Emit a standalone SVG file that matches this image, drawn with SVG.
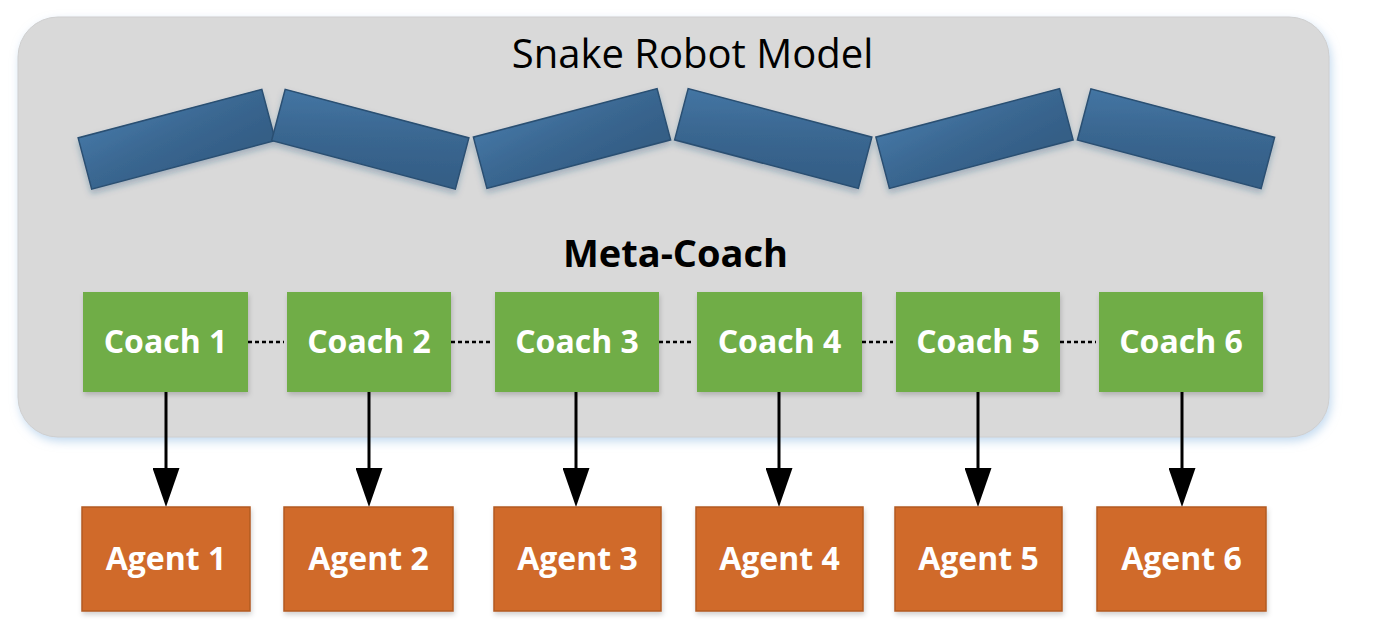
<svg xmlns="http://www.w3.org/2000/svg" width="1373" height="633" viewBox="0 0 1373 633">
<style>
.title{font-family:"Open Sans","Liberation Sans",sans-serif;font-size:40px;fill:#000;text-anchor:middle}
.meta{font-family:"Open Sans","Liberation Sans",sans-serif;font-size:38px;font-weight:bold;fill:#000;text-anchor:middle}
.lbl{font-family:"Open Sans","Liberation Sans",sans-serif;font-size:32px;font-weight:bold;fill:#fff;text-anchor:middle}
.coach{fill:#70ad47}
.agent{fill:#d06b2b;stroke:#b25a22;stroke-width:1.5}
.seg{fill:url(#segGrad);stroke:#2a4f72;stroke-width:1.5}
.dot{stroke:#000;stroke-width:2.5;stroke-dasharray:4 3;fill:none}
.arr{stroke:#000;stroke-width:3;fill:none}
</style>
<defs>
<linearGradient id="segGrad" x1="0" y1="0" x2="0.8" y2="1">
<stop offset="0" stop-color="#4475a3"/>
<stop offset="0.5" stop-color="#3a6791"/>
<stop offset="1" stop-color="#345e86"/>
</linearGradient>
<filter id="panelShadow" x="-5%" y="-5%" width="110%" height="115%">
<feDropShadow dx="2" dy="4" stdDeviation="5" flood-color="#9dc3e6" flood-opacity="0.6"/>
</filter>
<filter id="boxShadow" x="-10%" y="-10%" width="125%" height="130%">
<feDropShadow dx="1" dy="3" stdDeviation="2.5" flood-color="#000" flood-opacity="0.18"/>
</filter>
<filter id="segShadow" x="-10%" y="-20%" width="120%" height="150%">
<feDropShadow dx="0" dy="4" stdDeviation="3" flood-color="#1f4e79" flood-opacity="0.3"/>
</filter>
<marker id="ah" viewBox="0 0 39 27" refX="22" refY="13.5" markerWidth="39" markerHeight="27" markerUnits="userSpaceOnUse" orient="auto">
<path d="M0,0 L39,13.5 L0,27 z" fill="#000"/>
</marker>
</defs>
<rect width="1373" height="633" fill="#fff"/>
<g id="panel">
<rect x="18" y="17" width="1311" height="420" rx="40" ry="40" fill="#d9d9d9" stroke="#cfcfcf" stroke-width="1" filter="url(#panelShadow)"/>
<text class="title" x="692.5" y="68">Snake Robot Model</text>
</g>
<g id="snake" filter="url(#segShadow)">
<rect class="seg" x="-95" y="-26.5" width="190" height="53" transform="translate(176.75,139.2) rotate(-14.8)"/>
<rect class="seg" x="-95" y="-26.5" width="190" height="53" transform="translate(370.25,139.2) rotate(14.8)"/>
<rect class="seg" x="-95" y="-26.5" width="190" height="53" transform="translate(572,138.5) rotate(-14.8)"/>
<rect class="seg" x="-95" y="-26.5" width="190" height="53" transform="translate(773.25,138.5) rotate(14.8)"/>
<rect class="seg" x="-95" y="-26.5" width="190" height="53" transform="translate(974.5,138.5) rotate(-14.8)"/>
<rect class="seg" x="-95" y="-26.5" width="190" height="53" transform="translate(1176,138.7) rotate(14.8)"/>
</g>
<g id="meta-coach">
<text class="meta" x="675.5" y="267">Meta-Coach</text>
</g>
<g id="connectors">
<line class="dot" x1="248" y1="342" x2="284" y2="342"/>
<line class="dot" x1="451" y1="342" x2="491" y2="342"/>
<line class="dot" x1="659" y1="342" x2="694" y2="342"/>
<line class="dot" x1="862" y1="342" x2="893" y2="342"/>
<line class="dot" x1="1060" y1="342" x2="1096" y2="342"/>
<line class="arr" x1="166" y1="392" x2="166" y2="490" marker-end="url(#ah)"/>
<line class="arr" x1="369" y1="392" x2="369" y2="490" marker-end="url(#ah)"/>
<line class="arr" x1="576" y1="392" x2="576" y2="490" marker-end="url(#ah)"/>
<line class="arr" x1="779" y1="392" x2="779" y2="490" marker-end="url(#ah)"/>
<line class="arr" x1="978" y1="392" x2="978" y2="490" marker-end="url(#ah)"/>
<line class="arr" x1="1182" y1="392" x2="1182" y2="490" marker-end="url(#ah)"/>
</g>
<g id="coach1"><rect class="coach" x="83" y="292" width="165" height="100" filter="url(#boxShadow)"/><text class="lbl" x="165.5" y="353">Coach 1</text></g>
<g id="coach2"><rect class="coach" x="287" y="292" width="164" height="100" filter="url(#boxShadow)"/><text class="lbl" x="369" y="353">Coach 2</text></g>
<g id="coach3"><rect class="coach" x="495" y="292" width="164" height="100" filter="url(#boxShadow)"/><text class="lbl" x="577" y="353">Coach 3</text></g>
<g id="coach4"><rect class="coach" x="697" y="292" width="165" height="100" filter="url(#boxShadow)"/><text class="lbl" x="779.5" y="353">Coach 4</text></g>
<g id="coach5"><rect class="coach" x="896" y="292" width="164" height="100" filter="url(#boxShadow)"/><text class="lbl" x="978" y="353">Coach 5</text></g>
<g id="coach6"><rect class="coach" x="1099" y="292" width="164" height="100" filter="url(#boxShadow)"/><text class="lbl" x="1181" y="353">Coach 6</text></g>
<g id="agent1"><rect class="agent" x="82" y="507" width="168" height="104" filter="url(#boxShadow)"/><text class="lbl" x="166" y="570">Agent 1</text></g>
<g id="agent2"><rect class="agent" x="284" y="507" width="169" height="104" filter="url(#boxShadow)"/><text class="lbl" x="368.5" y="570">Agent 2</text></g>
<g id="agent3"><rect class="agent" x="494" y="507" width="167" height="104" filter="url(#boxShadow)"/><text class="lbl" x="577.5" y="570">Agent 3</text></g>
<g id="agent4"><rect class="agent" x="696" y="507" width="167" height="104" filter="url(#boxShadow)"/><text class="lbl" x="779.5" y="570">Agent 4</text></g>
<g id="agent5"><rect class="agent" x="895" y="507" width="167" height="104" filter="url(#boxShadow)"/><text class="lbl" x="978.5" y="570">Agent 5</text></g>
<g id="agent6"><rect class="agent" x="1097" y="507" width="169" height="104" filter="url(#boxShadow)"/><text class="lbl" x="1181.5" y="570">Agent 6</text></g>
</svg>
